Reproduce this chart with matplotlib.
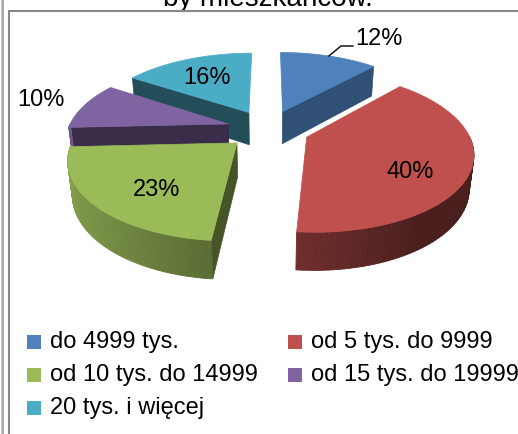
import numpy as np
import matplotlib.pyplot as plt
import matplotlib.colors as mcolors
from matplotlib.patches import Polygon, Rectangle

plt.rcParams['font.family'] = ['Liberation Sans', 'DejaVu Sans']

# dane wykresu
values = [12, 40, 23, 10, 16]
pct_labels = ['12%', '40%', '23%', '10%', '16%']
categories = ['do 4999 tys.', 'od 5 tys. do 9999', 'od 10 tys. do 14999',
              'od 15 tys. do 19999', '20 tys. i więcej']
colors = ['#4F81BD', '#C0504D', '#9BBB59', '#8064A2', '#4BACC6']
title = 'by mieszkańców.'

# parametry widoku 3D (w pikselach / promieniach)
CX, CY, S = 268, 129, 160
ALPHA = np.radians(28)
D = 5.0
H = 0.24
EXPL = 0.26
label_r = [1.0, 0.65, 0.6, 1.32, 0.65]
label_dy = [0, 13, 11, 0, 2]


def proj(X, Z, Hh):
    yv = Z * np.sin(ALPHA) + Hh * np.cos(ALPHA)
    zv = D + Z * np.cos(ALPHA) - Hh * np.sin(ALPHA)
    return CX + S * X * D / zv, CY - S * yv * D / zv


fig = plt.figure(figsize=(5.18, 4.34), dpi=100)
ax = fig.add_axes([0, 0, 1, 1])
ax.set_xlim(0, 518)
ax.set_ylim(434, 0)
ax.axis('off')

fracs = np.array(values) / sum(values) * 360
starts = np.concatenate([[0], np.cumsum(fracs)[:-1]])
mids = starts + fracs / 2
order = sorted(range(len(values)), key=lambda i: -np.cos(np.radians(mids[i])))

for i in order:
    a0, a1, mid = starts[i], starts[i] + fracs[i], np.radians(mids[i])
    ox, oz = EXPL * np.sin(mid), EXPL * np.cos(mid)
    base = np.array(mcolors.to_rgb(colors[i]))
    # sciany boczne (promieniowe)
    for edge, vis in ((a0, np.sin(np.radians(a0)) < -0.01), (a1, np.sin(np.radians(a1)) > 0.01)):
        if vis:
            e = np.radians(edge)
            ex, ez = ox + np.sin(e), oz + np.cos(e)
            pts = [proj(ox, oz, 0), proj(ex, ez, 0), proj(ex, ez, -H), proj(ox, oz, -H)]
            c = base * 0.45 if i != 0 else base * 0.62
            ax.add_patch(Polygon(pts, closed=True, fc=c, ec=c, lw=0.5))
    # sciana zewnetrzna z cieniowaniem
    th = np.radians(np.linspace(a0, a1, 90))
    for k in range(len(th) - 1):
        tm = (th[k] + th[k + 1]) / 2
        if np.cos(tm) < 0:
            f = max(0.38, 0.55 + 0.3 * (-np.sin(tm)))
            c = np.clip(base * f, 0, 1)
            p1x, p1z = ox + np.sin(th[k]), oz + np.cos(th[k])
            p2x, p2z = ox + np.sin(th[k + 1]), oz + np.cos(th[k + 1])
            pts = [proj(p1x, p1z, 0), proj(p2x, p2z, 0), proj(p2x, p2z, -H), proj(p1x, p1z, -H)]
            ax.add_patch(Polygon(pts, closed=True, fc=c, ec=c, lw=0.6))
    # gorna powierzchnia
    xs, ys = proj(np.r_[ox, ox + np.sin(th)], np.r_[oz, oz + np.cos(th)], 0)
    ax.add_patch(Polygon(np.column_stack([xs, ys]), closed=True, fc=base, ec=base, lw=0.5))

# etykiety procentowe
for i in range(len(values)):
    mid = np.radians(mids[i])
    r = label_r[i]
    ox, oz = EXPL * np.sin(mid), EXPL * np.cos(mid)
    lx, ly = proj(ox + r * np.sin(mid), oz + r * np.cos(mid), 0)
    ly += label_dy[i]
    if i == 0:
        ex, ey = lx + 12, ly - 10
        ax.plot([lx, ex, ex + 12], [ly, ey, ey], color='black', lw=1)
        ax.text(ex + 14, ey - 7, pct_labels[i], ha='left', va='center', fontsize=17)
    else:
        ax.text(lx, ly, pct_labels[i], ha='center', va='center', fontsize=17)

# tytul (uciety u gory, jak w oryginale)
ax.text(268, 6.5, title, ha='center', va='baseline', fontsize=20, zorder=1)

# ramki
ax.plot([8.5, 518], [10.5, 10.5], color='#888888', lw=1.5, zorder=5, solid_capstyle='butt')
ax.plot([8.5, 8.5], [10, 434], color='#888888', lw=1.5, zorder=5, solid_capstyle='butt')
ax.plot([1, 1], [0, 434], color='#c8c8c8', lw=0.75)
ax.plot([3, 3], [0, 434], color='#9a9a9a', lw=1.2)

# legenda
leg_x = [27, 288]
leg_y = [342, 375, 408]
for i, lab in enumerate(categories):
    x, y = leg_x[i % 2], leg_y[i // 2]
    ax.add_patch(Rectangle((x, y - 7), 14, 14, fc=colors[i], ec='none'))
    ax.text(x + 23, y, lab, ha='left', va='center', fontsize=17)

fig.savefig('out.png', dpi=100)
